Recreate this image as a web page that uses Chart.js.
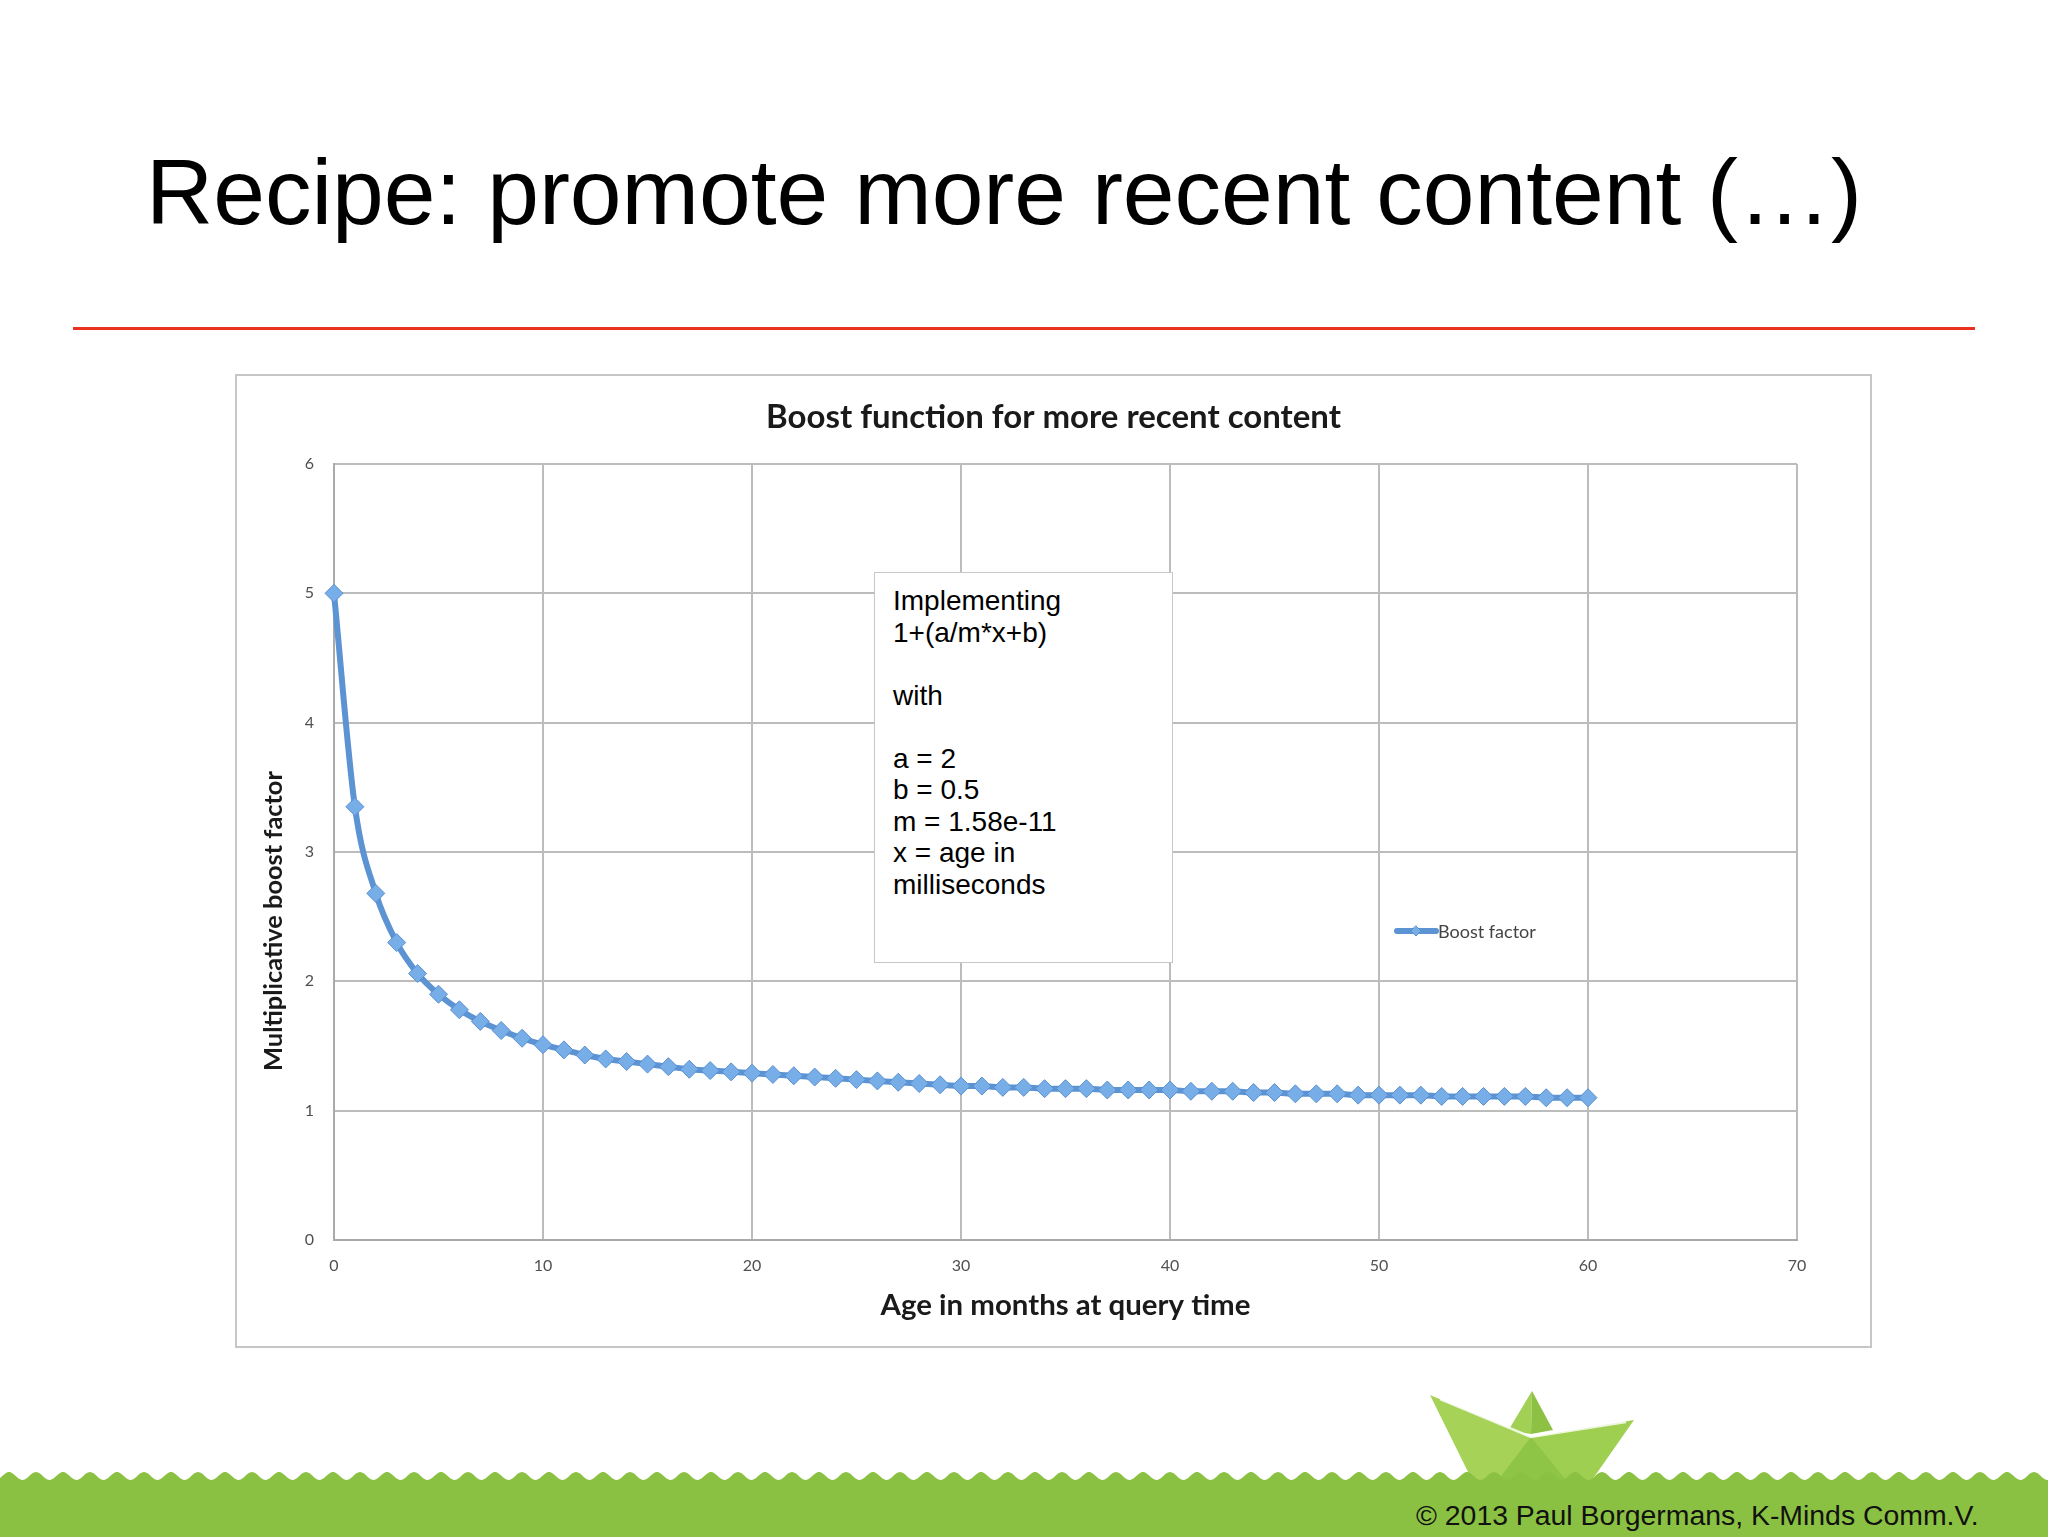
<!DOCTYPE html>
<html><head><meta charset="utf-8">
<script src="https://cdn.jsdelivr.net/npm/chart.js@4.4.0/dist/chart.umd.min.js"></script>
<style>
html,body{margin:0;padding:0;background:#fff;}
body{width:2048px;height:1537px;position:relative;overflow:hidden;font-family:"Liberation Sans",Arial,sans-serif;}
#slideTitle{position:absolute;left:146px;top:146px;font-size:93px;line-height:93px;color:#000;white-space:nowrap;}
#redRule{position:absolute;left:73px;top:327px;width:1902px;height:3px;background:#e8321e;}
#chartWrap{position:absolute;left:235px;top:374px;width:1637px;height:974px;background:#fff;}
#chartBorder{position:absolute;left:235px;top:374px;width:1633px;height:970px;border:2px solid #c6c6c6;pointer-events:none;}
#note{position:absolute;left:874px;top:572px;width:297px;height:389px;background:#fff;border:1.5px solid #c8c8c8;box-sizing:content-box;}
#note div{position:absolute;left:18px;top:12px;font-size:28px;line-height:31.5px;color:#000;white-space:pre;}
#footer{position:absolute;left:0;top:1380px;}
#copy{position:absolute;left:1416px;top:1499px;font-size:28.4px;line-height:32px;color:#111;white-space:nowrap;}
</style>
</head><body>
<div id="slideTitle">Recipe: promote more recent content (…)</div>
<div id="redRule"></div>
<div id="chartWrap"><canvas id="c" width="1637" height="974"></canvas></div>
<div id="chartBorder"></div>
<div id="note"><div>Implementing
1+(a/m*x+b)

with

a = 2
b = 0.5
m = 1.58e-11
x = age in
milliseconds</div></div>
<svg id="footer" width="2048" height="157" xmlns="http://www.w3.org/2000/svg"></svg>
<div id="copy">© 2013 Paul Borgermans, K-Minds Comm.V.</div>
<script>
// ---- data ----
const months = [0,1,2,3,4,5,6,7,8,9,10,11,12,13,14,15,16,17,18,19,20,21,22,23,24,25,26,27,28,29,30,31,32,33,34,35,36,37,38,39,40,41,42,43,44,45,46,47,48,49,50,51,52,53,54,55,56,57,58,59,60];
const boostFactor = [5.00,3.35,2.68,2.30,2.06,1.90,1.78,1.69,1.62,1.56,1.51,1.47,1.43,1.40,1.38,1.36,1.34,1.32,1.31,1.30,1.29,1.28,1.27,1.26,1.25,1.24,1.23,1.22,1.21,1.20,1.19,1.19,1.18,1.18,1.17,1.17,1.17,1.16,1.16,1.16,1.16,1.15,1.15,1.15,1.14,1.14,1.13,1.13,1.13,1.12,1.12,1.12,1.12,1.11,1.11,1.11,1.11,1.11,1.10,1.10,1.10];
const xTicks = [0,10,20,30,40,50,60,70];
const yTicks = [0,1,2,3,4,5,6];
const seriesName = 'Boost factor';
const chartTitle = 'Boost function for more recent content';
const xTitle = 'Age in months at query time';
const yTitle = 'Multiplicative boost factor';

// ---- helpers ----
const mc = document.createElement('canvas').getContext('2d');
function fitSize(text, weight, family, target){
  mc.font = weight + ' 100px ' + family;
  return 100 * target / mc.measureText(text).width;
}
const FAM = 'Lato, "Open Sans", sans-serif';
const titleSize = fitSize(chartTitle,'bold',FAM,575);
const xTitleSize = fitSize(xTitle,'bold',FAM,370);
const yTitleSize = fitSize(yTitle,'bold',FAM,300);
const legSize = fitSize(seriesName,'normal',FAM,98);
const xTitleLH = xTitleSize*1.2;

const LINE = '#5b93d3';
const PT = '#78aee8';
const PTB = '#5a8fd0';
const GRID = '#bcbcbc';

const overlay = {
  id:'overlay',
  afterDraw(chart){
    const ctx = chart.ctx;
    // chart title
    ctx.save();
    ctx.font = 'bold ' + titleSize + 'px ' + FAM;
    ctx.fillStyle = '#1a1a1a';
    ctx.textAlign = 'center';
    ctx.textBaseline = 'middle';
    ctx.fillText(chartTitle, chart.width/2, 43);
    ctx.restore();
    // y title
    ctx.save();
    ctx.translate(39, 547);
    ctx.rotate(-Math.PI/2);
    ctx.font = 'bold ' + yTitleSize + 'px ' + FAM;
    ctx.fillStyle = '#1a1a1a';
    ctx.textAlign = 'center';
    ctx.textBaseline = 'middle';
    ctx.fillText(yTitle, 0, 0);
    ctx.restore();
    // legend
    ctx.save();
    const ly = 557;
    ctx.strokeStyle = LINE; ctx.lineWidth = 6; ctx.lineCap='round';
    ctx.beginPath(); ctx.moveTo(1162, ly); ctx.lineTo(1201, ly); ctx.stroke();
    ctx.fillStyle = PT; ctx.strokeStyle = PTB; ctx.lineWidth = 1;
    ctx.beginPath(); ctx.moveTo(1181, ly-5); ctx.lineTo(1186, ly); ctx.lineTo(1181, ly+5); ctx.lineTo(1176, ly); ctx.closePath(); ctx.fill(); ctx.stroke();
    ctx.font = legSize + 'px ' + FAM;
    ctx.fillStyle = '#444';
    ctx.textAlign = 'left'; ctx.textBaseline = 'middle';
    ctx.fillText(seriesName, 1203, ly+1);
    ctx.restore();
  }
};

new Chart(document.getElementById('c'), {
  type:'line',
  data:{
    datasets:[{
      label: seriesName,
      data: months.map((m,i)=>({x:m, y:boostFactor[i]})),
      borderColor: LINE,
      borderWidth: 6,
      backgroundColor: PT,
      pointBackgroundColor: PT,
      pointBorderColor: PTB,
      pointBorderWidth: 1,
      pointStyle: 'rectRot',
      pointRadius: 9,
      cubicInterpolationMode: 'monotone',
      clip: false,
      fill: false
    }]
  },
  options:{
    responsive:false,
    animation:false,
    devicePixelRatio:1,
    layout:{padding:{left:0, top:90, right:75, bottom:0}},
    plugins:{
      legend:{display:false},
      tooltip:{enabled:false},
      title:{display:false}
    },
    scales:{
      x:{
        type:'linear',
        min:xTicks[0], max:xTicks[xTicks.length-1],
        ticks:{stepSize:xTicks[1]-xTicks[0], padding:16, color:'#505050', font:{family:FAM, size:16}},
        grid:{color:GRID, lineWidth:2, drawTicks:false},
        border:{color:'#aaaaaa', width:2},
        title:{display:true, text:xTitle, color:'#1a1a1a', font:{family:FAM, size:xTitleSize, weight:'bold', lineHeight:1.2}, padding:{top:0, bottom:42 - xTitleLH/2}},
        afterFit(s){ s.height = 108; }
      },
      y:{
        min:yTicks[0], max:yTicks[yTicks.length-1],
        ticks:{stepSize:yTicks[1]-yTicks[0], padding:20, color:'#505050', font:{family:FAM, size:16}},
        grid:{color:GRID, lineWidth:2, drawTicks:false},
        border:{color:'#aaaaaa', width:2},
        afterFit(s){ s.width = 99; }
      }
    }
  },
  plugins:[overlay]
});

// ---- footer decoration ----
(function(){
  const svg = document.getElementById('footer');
  const NS = 'http://www.w3.org/2000/svg';
  const oy = 1380;
  function poly(pts, fill){
    const p = document.createElementNS(NS,'polygon');
    p.setAttribute('points', pts.map(q=>q[0]+','+(q[1]-oy)).join(' '));
    p.setAttribute('fill', fill);
    svg.appendChild(p);
  }
  // boat
  poly([[1430,1395],[1531,1437],[1531,1480],[1472,1480]], '#a5d257');
  poly([[1531,1437],[1634,1420],[1592,1480],[1531,1480]], '#9fcf50');
  poly([[1531,1437],[1498,1480],[1566,1480]], '#8ec546');
  poly([[1532,1391],[1508,1431],[1531,1434]], '#a2d055');
  poly([[1532,1391],[1531,1434],[1553,1430]], '#8cc143');
  const crease = document.createElementNS(NS,'polyline');
  crease.setAttribute('points', [[1440,1399],[1531,1437],[1626,1422]].map(q=>q[0]+','+(q[1]-oy)).join(' '));
  crease.setAttribute('fill','none'); crease.setAttribute('stroke','#ffffff'); crease.setAttribute('stroke-width','2.5'); crease.setAttribute('opacity','0.8');
  svg.appendChild(crease);
  // wavy green band
  let d = 'M0,157 L0,' + (1480-oy);
  for (let x=0; x<=2048; x+=2){
    const y = 1476 - 4*Math.cos((x-9)/27*2*Math.PI);
    d += ' L' + x + ',' + (y-oy).toFixed(2);
  }
  d += ' L2048,157 Z';
  const band = document.createElementNS(NS,'path');
  band.setAttribute('d', d);
  band.setAttribute('fill', '#8bc142');
  svg.appendChild(band);
})();
</script>
</body></html>
